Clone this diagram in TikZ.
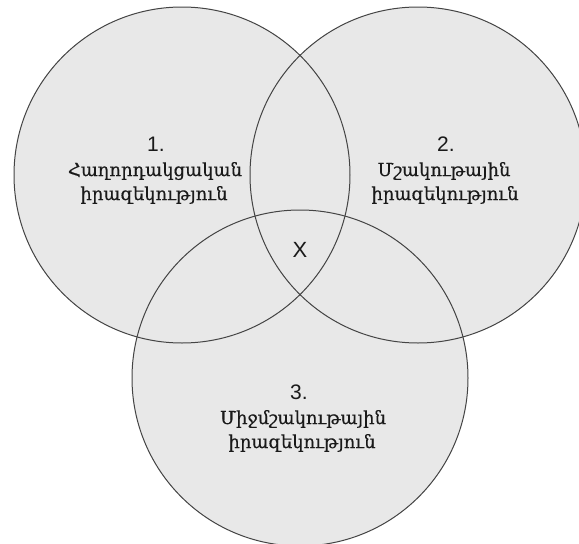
\documentclass[tikz,border=0pt]{standalone}
\usepackage{fontspec}
\setmainfont{Liberation Sans}
\newfontfamily\armfont[Script=Armenian,FakeBold=0.4]{DejaVu Serif}
\begin{document}
\begin{tikzpicture}[x=1pt,y=-1pt,
  venn/.style={circle,minimum size=336pt,inner sep=0pt},
  vfill/.style={fill=vgray,draw=none},
  vline/.style={draw=vline,line width=1pt},
  num/.style={anchor=base,inner sep=0pt,text=txt,font=\fontsize{21}{24}\selectfont},
  arm/.style={anchor=base,inner sep=0pt,text=txt,font=\armfont\fontsize{18}{24}\selectfont}]
\definecolor{vgray}{HTML}{E8E8E8}
\definecolor{vline}{HTML}{444444}
\definecolor{txt}{HTML}{1A1A1A}
\useasboundingbox (0,0) rectangle (579,544);
\fill[white] (0,0) rectangle (579,544);
\node[venn,vfill] (c1) at (182,175) {};
\node[venn,vfill] (c2) at (418,175) {};
\node[venn,vfill] (c3) at (300,378) {};
\node[venn,vline] at (c1) {};
\node[venn,vline] at (c2) {};
\node[venn,vline] at (c3) {};
\node[num] (n1) at (156,151) {1.};
\node[arm] (a1) at (155,176) {Հաղորդակցական};
\node[arm] (b1) at (154,200) {իրազեկություն};
\node[num] (n2) at (446,151) {2.};
\node[arm] (a2) at (444,176) {Մշակութային};
\node[arm] (b2) at (445,200) {իրազեկություն};
\node[num] (n3) at (299,399) {3.};
\node[arm] (a3) at (303,424) {Միջմշակութային};
\node[arm] (b3) at (302,448) {իրազեկություն};
\node[num,font=\fontsize{22}{24}\selectfont] (x) at (300,257) {X};
\end{tikzpicture}
\end{document}
